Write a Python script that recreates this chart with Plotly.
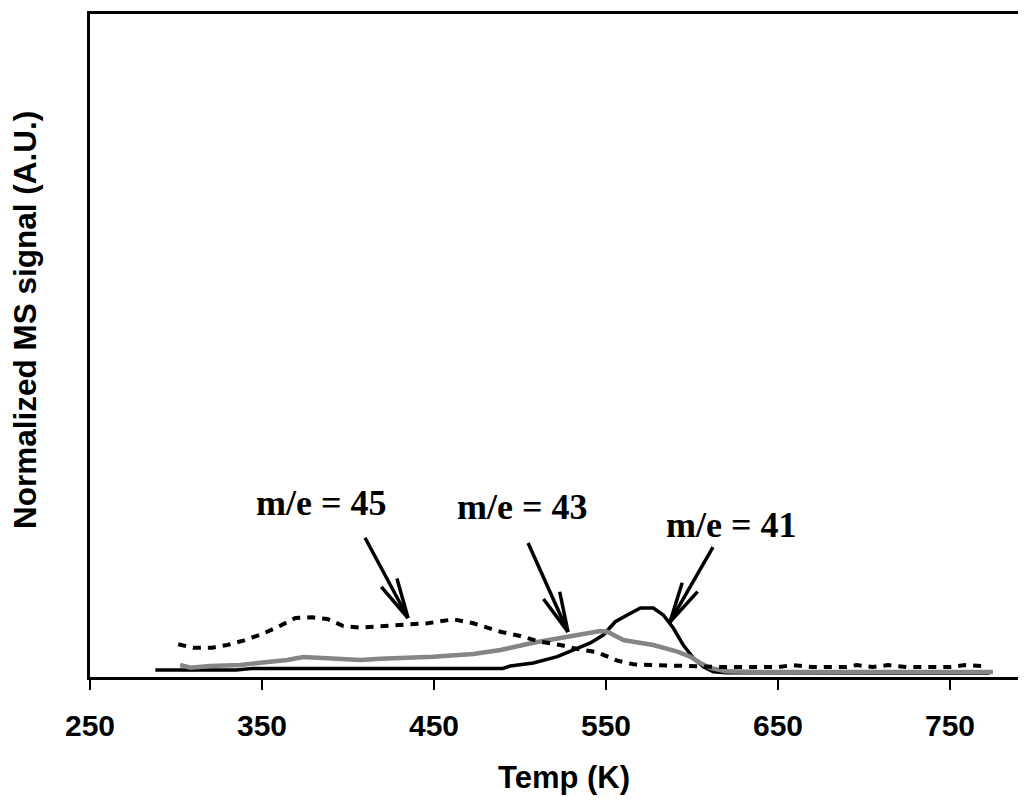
import math
import plotly.graph_objects as go

# ---- data ----
temp_41 = [288, 335, 345, 420, 490, 494.4, 507.7, 521.7, 533.3, 540.9, 548.4, 555.4,
           562.4, 570.0, 577.5, 583.3, 589.1, 594.9, 600.8, 606.6, 612.4, 620, 700, 773]
sig_41 = [0.105, 0.105, 0.13, 0.13, 0.13, 0.166, 0.211, 0.306, 0.437, 0.513, 0.633, 0.834,
          0.935, 1.041, 1.041, 0.935, 0.739, 0.483, 0.287, 0.155, 0.08, 0.065, 0.06, 0.06]

temp_43 = [302.4, 308.3, 319.9, 337.4, 349.0, 364.7, 374.0, 383.9, 391.5, 407.2, 418.8,
           434.5, 449.6, 472.9, 488.6, 507.7, 527.4, 539.1, 546.7, 550.8, 560.1, 565.9,
           577.5, 591.5, 599.0, 604.8, 610.6, 619.4, 640, 775]
sig_43 = [0.181, 0.140, 0.166, 0.181, 0.216, 0.256, 0.302, 0.287, 0.271, 0.256, 0.276,
          0.287, 0.306, 0.347, 0.407, 0.517, 0.608, 0.664, 0.694, 0.683, 0.558, 0.532,
          0.483, 0.382, 0.306, 0.211, 0.136, 0.085, 0.075, 0.075]

temp_45 = [301.3, 310.0, 321.1, 329.8, 339.1, 350.2, 359.5, 369.4, 379.2, 388.0, 397.3,
           407.2, 414.7, 434.5, 446.2, 461.3, 472.9, 488.6, 500.2, 511.8, 523.4, 533.3,
           544.9, 556.6, 565.9, 577.5, 589.1, 600.8, 616.9, 650, 658.7, 670, 690, 695.7,
           705, 714, 725, 750, 758.7, 771.3]
sig_45 = [0.493, 0.442, 0.442, 0.483, 0.548, 0.649, 0.759, 0.890, 0.900, 0.875, 0.769,
          0.744, 0.759, 0.784, 0.810, 0.870, 0.810, 0.683, 0.618, 0.532, 0.483, 0.422,
          0.373, 0.246, 0.192, 0.181, 0.170, 0.155, 0.15, 0.15, 0.18, 0.15, 0.15, 0.18,
          0.15, 0.18, 0.15, 0.15, 0.18, 0.16]

tick_vals = [250, 350, 450, 550, 650, 750]

labels = ["m/e = 45", "m/e = 43", "m/e = 41"]
label_x = [384.3, 501.2, 622.7]
label_y = [2.62, 2.57, 2.29]
arrow_tail_x = [409.9, 504.7, 612.2]
arrow_tail_y = [2.10, 2.02, 1.96]
arrow_tip_x = [434.9, 527.9, 587.2]
arrow_tip_y = [0.89, 0.68, 0.83]

# ---- layout geometry (page has an 8px body margin) ----
OFF = 8
W, H = 1026 - OFF, 805 - OFF
PLOT_L, PLOT_T, PLOT_B = 90, 14, 677          # page coordinates
ML, MR, MT = PLOT_L - OFF, 0, PLOT_T - OFF
MB = H - (PLOT_B - OFF)
PW, PH = W - ML - MR, H - MT - MB
X0, X1 = 250, 250 + PW / 1.72
Y0, Y1 = 0, 10
px_per_x = PW / (X1 - X0)
px_per_y = PH / (Y1 - Y0)

fig = go.Figure()
fig.add_trace(go.Scatter(x=temp_41, y=sig_41, mode="lines",
                         line=dict(color="black", width=3.5), name="m/e = 41"))
fig.add_trace(go.Scatter(x=temp_43, y=sig_43, mode="lines",
                         line=dict(color="#858585", width=4.5), name="m/e = 43"))
fig.add_trace(go.Scatter(x=temp_45, y=sig_45, mode="lines",
                         line=dict(color="black", width=4, dash="8px,7px"), name="m/e = 45"))

shapes = []
for tx, ty, hx, hy in zip(arrow_tail_x, arrow_tail_y, arrow_tip_x, arrow_tip_y):
    shapes.append(dict(type="line", xref="x", yref="y", x0=tx, y0=ty, x1=hx, y1=hy,
                       line=dict(color="black", width=3.5)))
    dx = (tx - hx) * px_per_x
    dy = (ty - hy) * px_per_y
    ang = math.atan2(dy, dx)
    for s in (-1, 1):
        a = ang + s * math.radians(12.5)
        ex = hx + 41 * math.cos(a) / px_per_x
        ey = hy + 41 * math.sin(a) / px_per_y
        shapes.append(dict(type="line", xref="x", yref="y", x0=hx, y0=hy, x1=ex, y1=ey,
                           line=dict(color="black", width=3.5)))

annotations = []
for t, lx, ly in zip(labels, label_x, label_y):
    annotations.append(dict(x=lx, y=ly, xref="x", yref="y", text=t, showarrow=False,
                            font=dict(family="Liberation Serif", size=36, color="black",
                                      weight="bold"),
                            xanchor="center", yanchor="middle"))
annotations.append(dict(x=(563.5 - PLOT_L) / PW, y=(PLOT_B - 778) / PH,
                        xref="paper", yref="paper", text="Temp (K)", showarrow=False,
                        font=dict(family="Liberation Sans", size=31, color="black", weight="bold"),
                        xanchor="center", yanchor="middle"))
annotations.append(dict(x=(25 - PLOT_L) / PW, y=(PLOT_B - 320) / PH,
                        xref="paper", yref="paper", text="Normalized MS signal (A.U.)",
                        showarrow=False, textangle=-90,
                        font=dict(family="Liberation Sans", size=31.5, color="black", weight="bold"),
                        xanchor="center", yanchor="middle"))

fig.update_layout(
    width=W, height=H,
    margin=dict(l=ML, r=MR, t=MT, b=MB),
    paper_bgcolor="white", plot_bgcolor="white",
    showlegend=False,
    shapes=shapes, annotations=annotations,
    xaxis=dict(range=[X0, X1], tickvals=tick_vals, ticks="outside", ticklen=10,
               tickwidth=2, tickcolor="black", showline=True, linecolor="black",
               linewidth=3, mirror=True, showgrid=False, zeroline=False,
               ticklabelstandoff=10,
               tickfont=dict(family="Liberation Sans", size=30, color="black", weight="bold")),
    yaxis=dict(range=[Y0, Y1], showticklabels=False, ticks="", showline=True,
               linecolor="black", linewidth=3, mirror=False, showgrid=False, zeroline=False),
)

fig.write_html("out.html")
